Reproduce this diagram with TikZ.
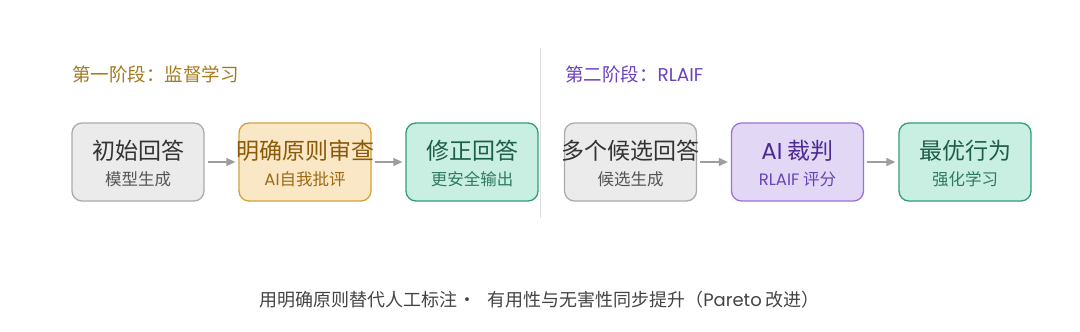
\documentclass[tikz,border=0pt]{standalone}
\usepackage{fontspec}
\setmainfont{Noto Sans CJK SC}
\newfontfamily\lat{Poppins}
\usetikzlibrary{arrows.meta}
\definecolor{grayfill}{HTML}{EBEBEB}
\definecolor{grayline}{HTML}{ABABAB}
\definecolor{graytext}{HTML}{333333}
\definecolor{graysub}{HTML}{555555}
\definecolor{orfill}{HTML}{FAE7C6}
\definecolor{orline}{HTML}{D4A03C}
\definecolor{ortext}{HTML}{8A5A08}
\definecolor{orsub}{HTML}{9C6A14}
\definecolor{grfill}{HTML}{C9EEE2}
\definecolor{grline}{HTML}{2E9E7C}
\definecolor{grtext}{HTML}{1D5E4A}
\definecolor{grsub}{HTML}{2E7A62}
\definecolor{pufill}{HTML}{E3D7F6}
\definecolor{puline}{HTML}{9C72DA}
\definecolor{putext}{HTML}{4B2A92}
\definecolor{pusub}{HTML}{6844B6}
\definecolor{gold}{HTML}{A57A1C}
\definecolor{purp}{HTML}{6B42C2}
\definecolor{arr}{HTML}{9E9E9E}
\definecolor{divider}{HTML}{DDDDDD}
\definecolor{foot}{HTML}{444444}
\tikzset{
  box/.style={draw, line width=1.3pt, rounded corners=10pt, minimum width=132pt, minimum height=78pt, inner sep=0pt},
  mainlbl/.style={font=\fontsize{23}{26}\selectfont, inner sep=0pt, anchor=center},
  sublbl/.style={font=\fontsize{16.5}{19}\selectfont, inner sep=0pt, anchor=center},
  flow/.style={draw=arr, line width=1.3pt, -{Triangle[width=8pt,length=9pt]}},
  phase/.style={font=\fontsize{18.5}{21}\selectfont, inner sep=0pt, anchor=west},
}
\begin{document}
\begin{tikzpicture}[x=1pt,y=-1pt]
\useasboundingbox[fill=white] (0,0) rectangle (1080,332);
% divider
\draw[divider, line width=1pt] (540,48) -- (540,218);
% phase titles
\node[phase, text=gold] (t1) at (72,74) {第一阶段：监督学习};
\node[phase, text=purp] (t2) at (565,74) {第二阶段：{\lat RLAIF}};
% boxes
\node[box, fill=grayfill, draw=grayline] (b1) at (138,162) {};
\node[box, fill=orfill, draw=orline] (b2) at (305,162) {};
\node[box, fill=grfill, draw=grline] (b3) at (472,162) {};
\node[box, fill=grayfill, draw=grayline] (b4) at (630.5,162) {};
\node[box, fill=pufill, draw=puline] (b5) at (797.5,162) {};
\node[box, fill=grfill, draw=grline] (b6) at (965,162) {};
% labels
\node[mainlbl, text=graytext] (m1) at (138,151) {初始回答};
\node[sublbl, text=graysub] (s1) at (138,179) {模型生成};
\node[mainlbl, text=ortext] (m2) at (305,151) {明确原则审查};
\node[sublbl, text=orsub] (s2) at (305,179) {{\lat AI}自我批评};
\node[mainlbl, text=grtext] (m3) at (472,151) {修正回答};
\node[sublbl, text=grsub] (s3) at (472,179) {更安全输出};
\node[mainlbl, text=graytext] (m4) at (630.5,151) {多个候选回答};
\node[sublbl, text=graysub] (s4) at (630.5,179) {候选生成};
\node[mainlbl, text=putext] (m5) at (797.5,151) {{\lat AI} 裁判};
\node[sublbl, text=pusub] (s5) at (797.5,179) {{\lat RLAIF} 评分};
\node[mainlbl, text=grtext] (m6) at (965,151) {最优行为};
\node[sublbl, text=grsub] (s6) at (965,179) {强化学习};
% arrows
\draw[flow] ([xshift=3pt]b1.east) -- ([xshift=-3pt]b2.west);
\draw[flow] ([xshift=3pt]b2.east) -- ([xshift=-3pt]b3.west);
\draw[flow] ([xshift=3pt]b4.east) -- ([xshift=-3pt]b5.west);
\draw[flow] ([xshift=3pt]b5.east) -- ([xshift=-3pt]b6.west);
% footer
\node[font=\fontsize{18}{21}\selectfont, text=foot, inner sep=0pt, anchor=west] (f) at (259,300) {用明确原则替代人工标注\makebox[1.2em][c]{·}\hspace{0.47em}有用性与无害性同步提升（{\lat Pareto} 改进）};
\end{tikzpicture}
\end{document}
